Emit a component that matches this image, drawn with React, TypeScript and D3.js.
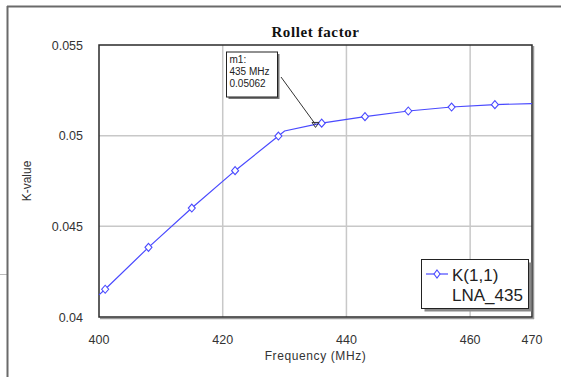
import React from "react";
import * as d3 from "d3";

// Curve samples (frequency MHz, K-value)
const curveFreq = [400, 401, 408, 415, 422, 429, 430, 435, 436, 443, 450, 457, 464, 470];
const curveK = [0.04122, 0.04153, 0.04384, 0.04601, 0.04807, 0.04998, 0.05026, 0.05062, 0.05069, 0.05105, 0.05136, 0.05158, 0.05171, 0.05177];

// Diamond markers
const markerFreq = [401, 408, 415, 422, 429, 436, 443, 450, 457, 464];
const markerK = [0.04153, 0.04384, 0.04601, 0.04807, 0.04998, 0.05069, 0.05105, 0.05136, 0.05158, 0.05171];

const xTicks = [400, 420, 440, 460, 470];
const xGrid = [420, 440, 460];
const yTicks = [0.04, 0.045, 0.05, 0.055];
const yTickLabels = ["0.04", "0.045", "0.05", "0.055"];
const yGrid = [0.045, 0.05];

const markerM1 = { label: "m1:", freq: 435, value: 0.05062 };
const legendLines = ["K(1,1)", "LNA_435"];

export default function App() {
  const W = 561, H = 377;
  const left = 99, right = 532, top = 45, bottom = 317;
  const x = d3.scaleLinear().domain([400, 470]).range([left, right]);
  const y = d3.scaleLinear().domain([0.04, 0.055]).range([bottom, top]);

  const line = d3
    .line<number>()
    .x((_, i) => x(curveFreq[i]))
    .y((d) => y(d));
  const path = line(curveK) || "";

  const sans = "'Liberation Sans', Arial, sans-serif";
  const blue = "#4a4aff";

  const mx = x(markerM1.freq);
  const my = y(markerM1.value);

  return (
    <svg
      width={W}
      height={H}
      style={{ position: "absolute", left: 0, top: 0, background: "#fff" }}
    >
      {/* outer frame */}
      <line x1={0} y1={274.5} x2={7} y2={274.5} stroke="#bbb" strokeWidth={1} />
      <line x1={7.5} y1={6} x2={7.5} y2={H} stroke="#6a6a6a" strokeWidth={2} />
      <line x1={7} y1={6.5} x2={W} y2={6.5} stroke="#6a6a6a" strokeWidth={2} />

      {/* title */}
      <text
        x={(left + right) / 2}
        y={37}
        textAnchor="middle"
        fontFamily="'Liberation Serif', 'Times New Roman', serif"
        fontWeight="bold"
        fontSize={15}
        letterSpacing={0.6}
        fill="#111"
      >
        Rollet factor
      </text>

      {/* grid */}
      {xGrid.map((v) => (
        <line key={"gx" + v} x1={x(v)} x2={x(v)} y1={top} y2={bottom} stroke="#c8c8c8" strokeWidth={1.5} />
      ))}
      {yGrid.map((v) => (
        <line key={"gy" + v} x1={left} x2={right} y1={y(v)} y2={y(v)} stroke="#c8c8c8" strokeWidth={1.5} />
      ))}

      {/* plot frame with shadow */}
      <line x1={right + 1.5} y1={top + 1} x2={right + 1.5} y2={bottom + 2} stroke="#999" strokeWidth={1.5} />
      <line x1={left + 1} y1={bottom + 1.5} x2={right + 2} y2={bottom + 1.5} stroke="#999" strokeWidth={1.5} />
      <rect x={left} y={top} width={right - left} height={bottom - top} fill="none" stroke="#2a2a2a" strokeWidth={1.5} />

      {/* tick labels */}
      {yTicks.map((v, i) => (
        <text key={"yt" + v} x={83} y={y(v) + 4.5} textAnchor="end" fontFamily={sans} fontSize={12.5} fill="#333">
          {yTickLabels[i]}
        </text>
      ))}
      {xTicks.map((v) => (
        <text key={"xt" + v} x={x(v)} y={343.5} textAnchor="middle" fontFamily={sans} fontSize={12.5} fill="#333">
          {v}
        </text>
      ))}

      {/* axis titles */}
      <text
        transform={`translate(31,${(top + bottom) / 2}) rotate(-90)`}
        textAnchor="middle"
        fontFamily={sans}
        fontSize={12}
        fill="#333"
      >
        K-value
      </text>
      <text x={(left + right) / 2} y={360} textAnchor="middle" fontFamily={sans} fontSize={12} fill="#333" letterSpacing={0.6}>
        Frequency (MHz)
      </text>

      {/* curve */}
      <path d={path} fill="none" stroke={blue} strokeWidth={1.2} />
      {markerFreq.map((f, i) => {
        const cx = x(f), cy = y(markerK[i]);
        return (
          <path
            key={"m" + f}
            d={`M${cx},${cy - 4}L${cx + 3.5},${cy}L${cx},${cy + 4}L${cx - 3.5},${cy}Z`}
            fill="#fff"
            stroke={blue}
            strokeWidth={1.1}
          />
        );
      })}

      {/* marker m1 */}
      <line x1={281} y1={77} x2={mx} y2={my} stroke="#333" strokeWidth={1} />
      <path d={`M${mx - 3.5},${my - 2}L${mx + 3.5},${my - 2}L${mx},${my + 3}Z`} fill="none" stroke="#333" strokeWidth={1} />
      <rect x={228.5} y={54} width={51} height={45} fill="#777" />
      <rect x={226.5} y={52} width={51} height={45} fill="#fff" stroke="#222" strokeWidth={1} />
      <g fontFamily={sans} fontSize={10} fill="#222">
        <text x={229.5} y={63}>{markerM1.label}</text>
        <text x={229.5} y={75}>{`${markerM1.freq} MHz`}</text>
        <text x={229.5} y={87}>{markerM1.value.toFixed(5)}</text>
      </g>

      {/* legend */}
      <rect x={424.5} y={262.5} width={107} height={49} fill="#888" />
      <rect x={421.5} y={259.5} width={107} height={49} fill="#fff" stroke="#222" strokeWidth={1} />
      <line x1={426} x2={448} y1={274} y2={274} stroke={blue} strokeWidth={1.2} />
      <path d={`M437,270L440,274L437,278L434,274Z`} fill="#fff" stroke={blue} strokeWidth={1.1} />
      <text x={452} y={281} fontFamily={sans} fontSize={17} fill="#222">{legendLines[0]}</text>
      <text x={452} y={301} fontFamily={sans} fontSize={17} fill="#222">{legendLines[1]}</text>
    </svg>
  );
}
